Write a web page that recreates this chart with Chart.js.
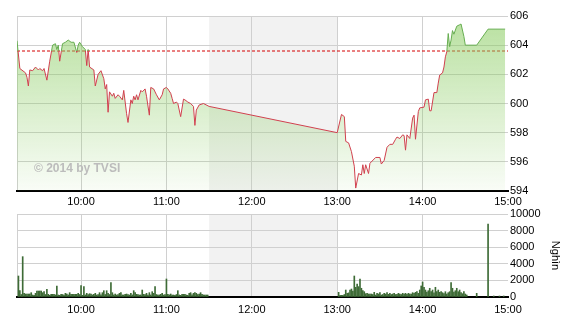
<!DOCTYPE html>
<html lang="vi">
<head>
    <meta charset="UTF-8">
    <title>VN-Index intraday</title>
    <script src="https://cdn.jsdelivr.net/npm/chart.js"></script>
    <style>
        body {
            margin: 0;
            background: #fff;
            width: 570px;
            height: 320px;
            position: relative;
            overflow: hidden;
        }
        canvas {
            position: absolute;
            left: 0;
        }
        #priceChart { top: 0; }
        #volumeChart { top: 205px; }
    </style>
</head>
<body>
    <canvas id="priceChart" width="570" height="210"></canvas>
    <canvas id="volumeChart" width="570" height="115"></canvas>
    <script>
        // times are minutes since midnight
        const tickTimes = [555, 600, 660, 720, 780, 840, 900];
        const refPrice = 603.6;
        const lunchStart = 690, lunchEnd = 780;

        const priceTimes = [555,557,561,562,563,564,566,568,570,571,573,574,576,578,580,582,583,584,585,587,
            589,591,593,595,597,598,599,601,603,604,605,606,609,610,612,614,616,617,618,619,
            620,622,623,624,626,627,629,630,632,633,635,636,637,638,639,640,642,643,645,646,
            648,649,651,653,655,657,658,660,661,663,664,665,667,668,670,672,673,675,677,679,
            680,681,683,686,690,
            780,783,785,786,788,790,792,793,795,797,798,799,800,802,803,807,810,811,813,815,
            817,819,821,822,824,826,827,828,829,831,833,834,835,837,838,841,842,844,845,846,
            848,850,851,852,854,855,856,857,858,859,860,861,862,864,866,867,869,870,878,886,898];
        const prices = [604.3,602.4,602.1,601.8,601.2,602.3,602.25,602.5,602.3,602.4,602.25,602.4,601.6,602.9,604.0,604.1,603.7,604.0,602.9,604.1,
            604.2,604.35,604.2,604.2,603.5,604.0,604.2,603.9,603.7,602.6,603.7,602.5,602.3,601.2,602.0,602.25,601.7,601.0,601.3,599.4,
            600.8,600.5,600.7,600.35,600.6,600.5,600.25,600.9,599.3,598.7,600.25,600.0,600.5,600.25,600.6,600.25,600.9,600.8,601.0,600.5,
            599.2,601.1,601.0,600.6,600.25,600.6,601.0,601.1,601.0,600.7,600.35,600.0,600.1,600.0,599.1,600.3,600.25,600.1,600.0,599.8,
            598.5,599.55,599.9,600.0,599.8,
            598.0,599.25,599.1,597.4,597.3,596.7,595.7,594.2,595.2,595.1,595.8,595.2,595.8,595.2,595.9,596.3,596.3,595.85,596.1,597.0,
            597.2,597.2,597.55,597.7,597.6,597.85,597.8,596.8,597.85,597.6,599.0,599.2,597.55,599.45,599.7,599.75,600.25,600.3,599.5,599.5,
            600.75,600.75,601.4,601.95,602.1,602.5,603.2,603.55,604.8,603.9,604.35,605.0,604.75,605.3,605.4,605.45,604.6,604.0,604.0,605.1,605.1];

        // volume (nghìn), one bar per minute
        const volMorningStart = 556;
        const volMorning = [2530,760,300,4860,440,360,360,360,360,520,240,200,440,720,720,720,720,520,640,300,
            920,320,200,320,320,320,250,1330,240,200,320,300,240,440,360,250,520,320,320,320,
            320,320,440,300,1370,200,1250,250,440,300,400,360,250,320,440,240,300,520,250,520,
            760,300,760,440,300,1730,520,250,360,240,300,440,520,250,240,320,360,300,240,440,
            250,760,520,320,300,240,250,840,320,300,440,240,520,250,640,440,1250,300,240,250,
            320,440,240,300,2170,320,250,360,240,240,200,300,760,250,200,320,320,320,240,200,
            440,520,250,440,520,440,300,360,520,320,250,240,240,240];
        const volAfternoonStart = 781;
        const volAfternoon = [560,200,200,200,300,840,440,500,840,960,700,2530,1170,1570,1250,2170,1050,760,640,400,
            440,360,360,360,300,560,240,440,360,520,240,300,440,360,520,320,440,300,360,440,
            300,320,440,360,300,440,360,440,320,440,360,350,520,440,560,640,440,840,1330,1810,
            1170,840,600,760,1050,640,840,500,1170,640,840,560,640,520,400,640,360,520,640,1730,
            1050,600,760,1050,640,840,520,400,640,360,240];
        const volLateTimes = [878, 886, 890, 894, 897];
        const volLate = [440, 8800, 120, 120, 120];

        const fontFamily = "'Liberation Sans Narrow', 'Liberation Sans', Arial, sans-serif";
        const gridColor = '#d0d0d0';
        const upColor = '#66ad50';
        const downColor = '#d0404e';

        function fmtTime(v) {
            const h = Math.floor(v / 60), m = v % 60;
            return h + ':' + (m < 10 ? '0' : '') + m;
        }

        const lunchShade = {
            id: 'lunchShade',
            beforeDraw(chart) {
                const {ctx, chartArea, scales} = chart;
                const x1 = scales.x.getPixelForValue(lunchStart);
                const x2 = scales.x.getPixelForValue(lunchEnd);
                ctx.save();
                ctx.fillStyle = '#f2f2f2';
                ctx.fillRect(x1, chartArea.top, x2 - x1, chartArea.bottom - chartArea.top);
                ctx.restore();
            }
        };

        const watermark = {
            id: 'watermark',
            afterDatasetsDraw(chart) {
                const ctx = chart.ctx;
                ctx.save();
                ctx.fillStyle = '#bcbcbc';
                ctx.font = "bold 12px 'Liberation Sans', Arial, sans-serif";
                ctx.textBaseline = 'alphabetic';
                ctx.fillText('© 2014 by TVSI', 34, 172);
                ctx.restore();
            }
        };

        function xScale(height, padding) {
            return {
                type: 'linear',
                min: 555,
                max: 900,
                offset: false,
                afterBuildTicks: s => { s.ticks = tickTimes.map(v => ({value: v})); },
                afterFit: s => { s.height = height; },
                ticks: {
                    autoSkip: false,
                    maxRotation: 0,
                    padding: padding,
                    color: '#000',
                    font: {family: fontFamily, size: 11},
                    callback: v => v === 555 ? '' : fmtTime(v)
                },
                grid: {
                    offset: false,
                    drawTicks: false,
                    lineWidth: 1,
                    color: c => (c.tick && c.tick.value === 900) ? 'rgba(0,0,0,0)' : gridColor
                },
                border: {color: '#000', width: 2}
            };
        }

        // line is green above the reference price, red below
        function lineColor(c) {
            const chart = c.chart;
            const area = chart.chartArea;
            if (!area) return downColor;
            const yRef = chart.scales.y.getPixelForValue(refPrice);
            const f = Math.min(1, Math.max(0, (yRef - area.top) / (area.bottom - area.top)));
            const g = chart.ctx.createLinearGradient(0, area.top, 0, area.bottom);
            g.addColorStop(0, upColor);
            g.addColorStop(f, upColor);
            g.addColorStop(f, downColor);
            g.addColorStop(1, downColor);
            return g;
        }

        function fillColor(c) {
            const area = c.chart.chartArea;
            if (!area) return 'rgba(150,210,110,0.4)';
            const g = c.chart.ctx.createLinearGradient(0, area.top, 0, area.bottom);
            g.addColorStop(0, 'rgba(140,205,100,0.62)');
            g.addColorStop(1, 'rgba(140,205,100,0.05)');
            return g;
        }

        const priceData = priceTimes.map((t, i) => ({x: t, y: prices[i]}));

        new Chart(document.getElementById('priceChart'), {
            type: 'line',
            data: {
                datasets: [{
                    data: priceData,
                    order: 1,
                    borderWidth: 1,
                    pointRadius: 0,
                    tension: 0,
                    fill: 'start',
                    borderColor: lineColor,
                    backgroundColor: fillColor
                }, {
                    data: [{x: 555, y: refPrice}, {x: 900, y: refPrice}],
                    order: 2,
                    borderColor: '#d40000',
                    borderWidth: 1,
                    borderDash: [3, 2],
                    pointRadius: 0,
                    fill: false
                }]
            },
            options: {
                responsive: false,
                animation: false,
                events: [],
                layout: {padding: {top: 16, left: 17, right: 0, bottom: 0}},
                plugins: {legend: {display: false}, tooltip: {enabled: false}},
                scales: {
                    x: xScale(19, 4),
                    y: {
                        position: 'right',
                        min: 594,
                        max: 606,
                        afterFit: s => { s.width = 62; },
                        ticks: {
                            stepSize: 2,
                            padding: 2,
                            color: '#000',
                            font: {family: fontFamily, size: 11}
                        },
                        grid: {drawTicks: false, color: gridColor, lineWidth: 1},
                        border: {display: false}
                    }
                }
            },
            plugins: [lunchShade, watermark]
        });

        const volData = [];
        volMorning.forEach((v, i) => volData.push({x: volMorningStart + i, y: v}));
        volAfternoon.forEach((v, i) => volData.push({x: volAfternoonStart + i, y: v}));
        volLateTimes.forEach((t, i) => volData.push({x: t, y: volLate[i]}));

        new Chart(document.getElementById('volumeChart'), {
            type: 'bar',
            data: {
                datasets: [{
                    data: volData,
                    backgroundColor: '#3e6b36',
                    barThickness: 1,
                    borderWidth: 0
                }]
            },
            options: {
                responsive: false,
                animation: false,
                events: [],
                layout: {padding: {top: 9, left: 17, right: 0, bottom: 0}},
                plugins: {legend: {display: false}, tooltip: {enabled: false}},
                scales: {
                    x: xScale(23, 6),
                    y: {
                        position: 'right',
                        min: 0,
                        max: 10000,
                        afterFit: s => { s.width = 62; },
                        ticks: {
                            stepSize: 2000,
                            padding: 2,
                            color: '#000',
                            font: {family: fontFamily, size: 11},
                            callback: v => String(v)
                        },
                        grid: {drawTicks: false, color: gridColor, lineWidth: 1},
                        border: {display: false},
                        title: {
                            display: true,
                            text: 'Nghìn',
                            color: '#000',
                            font: {family: "'Liberation Sans', Arial, sans-serif", size: 11},
                            padding: {top: 8, bottom: 0}
                        }
                    }
                }
            },
            plugins: [lunchShade]
        });
    </script>
</body>
</html>
